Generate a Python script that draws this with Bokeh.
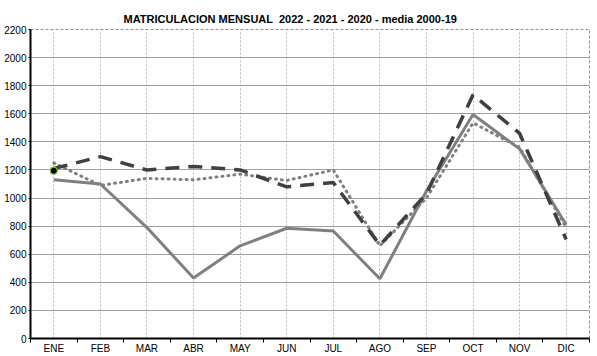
from bokeh.plotting import figure
from bokeh.models import Range1d, FixedTicker, Title
from bokeh.embed import file_html
from bokeh.resources import INLINE

meses = ["ENE", "FEB", "MAR", "ABR", "MAY", "JUN", "JUL", "AGO", "SEP", "OCT", "NOV", "DIC"]
s2020 = [1130, 1100, 790, 430, 660, 785, 765, 425, 1050, 1595, 1350, 810]
s2021 = [1210, 1295, 1200, 1225, 1200, 1080, 1110, 665, 1030, 1735, 1460, 705]
media = [1250, 1090, 1140, 1130, 1170, 1125, 1200, 660, 1000, 1535, 1360, 790]
s2022 = [1195]
y_ticks = list(range(0, 2201, 200))

xs = [i + 0.5 for i in range(len(meses))]

p = figure(width=597, height=356, output_backend="svg", toolbar_location=None,
           x_range=Range1d(0, 12), y_range=Range1d(0, 2200),
           min_border_left=30, min_border_right=8, min_border_top=29, min_border_bottom=12)
p.title = Title(text="MATRICULACION MENSUAL \u00a02022 - 2021 - 2020 - media 2000-19",
                align="left", offset=93, text_font="Liberation Sans",
                text_font_size="11px", text_font_style="bold", text_color="black")

p.xaxis.ticker = FixedTicker(ticks=xs, minor_ticks=list(range(0, 13)))
p.xaxis.major_label_overrides = {x: m for x, m in zip(xs, meses)}
p.xaxis.major_tick_out = 0
p.xaxis.major_tick_in = 0
p.xaxis.minor_tick_out = 4
p.xaxis.minor_tick_in = 0
p.xaxis.minor_tick_line_color = "black"
p.xaxis.axis_line_color = "black"
p.xaxis.axis_line_width = 2
p.xaxis.major_label_standoff = 0

p.yaxis.ticker = FixedTicker(ticks=y_ticks)
p.yaxis.major_tick_out = 2
p.yaxis.major_tick_in = 0
p.yaxis.minor_tick_line_color = None
p.yaxis.axis_line_color = "black"
p.yaxis.axis_line_width = 2
p.yaxis.major_label_standoff = 2

for ax in (p.xaxis, p.yaxis):
    ax.major_label_text_font = "Liberation Sans"
    ax.major_label_text_font_size = "10px"
    ax.major_label_text_color = "black"

p.xgrid.grid_line_color = "#b8b8b8"
p.xgrid.grid_line_dash = "2 2"
p.xgrid.grid_line_width = 1
p.ygrid.grid_line_color = "#a0a0a0"
p.ygrid.grid_line_width = 1

p.outline_line_color = "#909090"
p.outline_line_dash = "3 2"
p.outline_line_width = 1

p.line(xs, s2020, line_color="#808080", line_width=3)
p.line(xs, media, line_color="#808080", line_width=3, line_dash="1 5", line_cap="round")
p.line(xs, s2021, line_color="#404040", line_width=3.5, line_dash="14 9")
p.scatter(xs[:len(s2022)], s2022, size=7, fill_color="black", line_color="#7fbf3f", line_width=1.2)

open("out.html", "w").write(file_html(p, INLINE))
